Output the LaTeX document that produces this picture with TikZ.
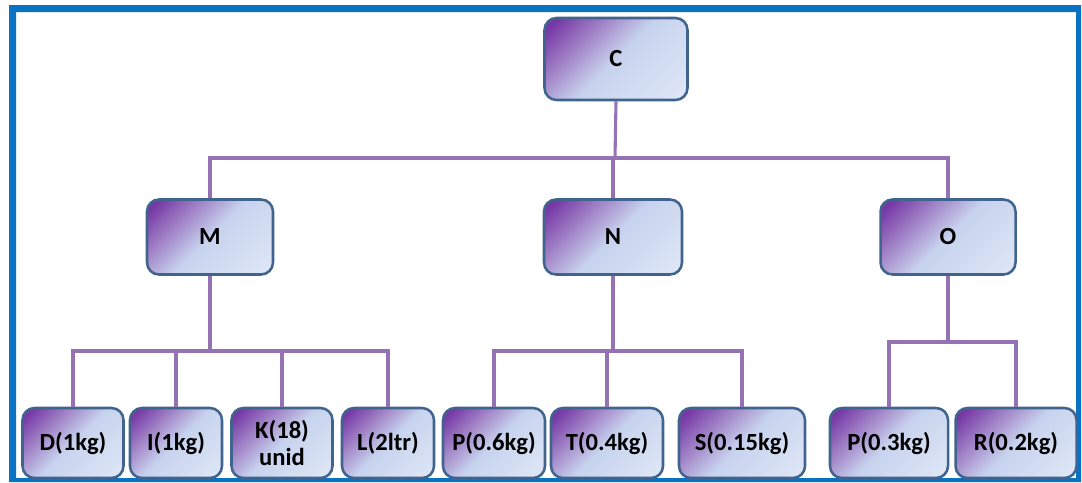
\documentclass[tikz,border=0pt]{standalone}
\usepackage{fontspec}
\usepackage{xcolor}
\usetikzlibrary{positioning, calc}

\newfontfamily\boxfont{Carlito}

\definecolor{frameblue}{HTML}{0A72C2}
\definecolor{boxedge}{HTML}{41648F}
\definecolor{linkpurple}{HTML}{9472B4}
\definecolor{shdark}{HTML}{7638A6}
\definecolor{shmid}{HTML}{A68CCB}
\definecolor{shlight}{HTML}{C7D3EE}
\definecolor{shpale}{HTML}{E0E8F6}

\pgfdeclarehorizontalshading{nodeshade}{100bp}{color(0bp)=(shdark); color(19bp)=(shdark); color(36bp)=(shmid); color(50bp)=(shlight); color(85bp)=(shpale); color(100bp)=(shpale)}

\begin{document}
\begin{tikzpicture}[
    x=0.025cm, y=-0.025cm,
    font=\boxfont\bfseries\fontsize{17.5}{19.5}\selectfont,
    tree_box/.style={rectangle, draw=boxedge, line width=1.8pt, rounded corners=0.3cm,
        shading=nodeshade, shading angle=-45, align=center, inner sep=0pt,
        minimum height=#1*0.025cm},
    boxw/.style={minimum width=#1*0.025cm},
    link/.style={draw=linkpurple, line width=2.2pt}
]
\useasboundingbox (0,0) rectangle (1082,482);

% Frame
\fill[frameblue, even odd rule] (9,5) rectangle (1081,482) (16,12) rectangle (1076,478);

% Bus heights
\coordinate (busC) at (615,158);
\coordinate (busM) at (210,351);
\coordinate (busN) at (613,351);
\coordinate (busO) at (948,342);

% Root
\node[tree_box=82, boxw=143] (C) at (616,59) {C};

% Second level
\node[tree_box=75, boxw=126] (M) at (210,237) {M};
\node[tree_box=75, boxw=138] (N) at (613,237) {N};
\node[tree_box=75, boxw=135] (O) at (948,237) {O};

% Leaves of M
\node[tree_box=70, boxw=101] (D) at (73,443) {D(1kg)};
\node[tree_box=70, boxw=92] (I) at (176,443) {I(1kg)};
\node[tree_box=70, boxw=101] (K) at (282,443) {K(18)\\unid};
\node[tree_box=70, boxw=92] (L) at (388,443) {L(2ltr)};

% Leaves of N
\node[tree_box=70, boxw=102] (P1) at (494,443) {P(0.6kg)};
\node[tree_box=70, boxw=112] (T) at (607,443) {T(0.4kg)};
\node[tree_box=70, boxw=126] (S) at (742,443) {S(0.15kg)};

% Leaves of O
\node[tree_box=70, boxw=118] (P2) at (889,443) {P(0.3kg)};
\node[tree_box=70, boxw=121] (R) at (1016,443) {R(0.2kg)};

% Connectors
\draw[link] (C.south) -- (busC);
\draw[link] (M.north) |- (busC) -| (O.north);
\draw[link] (busC -| N.north) -- (N.north);

\draw[link] (M.south) -- (busM);
\draw[link] (D.north) |- (busM) -| (L.north);
\draw[link] (busM -| I.north) -- (I.north);
\draw[link] (busM -| K.north) -- (K.north);

\draw[link] (N.south) -- (busN);
\draw[link] (P1.north) |- (busN) -| (S.north);
\draw[link] (busN -| T.north) -- (T.north);

\draw[link] (O.south) -- (busO);
\draw[link] (P2.north) |- (busO) -| (R.north);

\end{tikzpicture}
\end{document}
